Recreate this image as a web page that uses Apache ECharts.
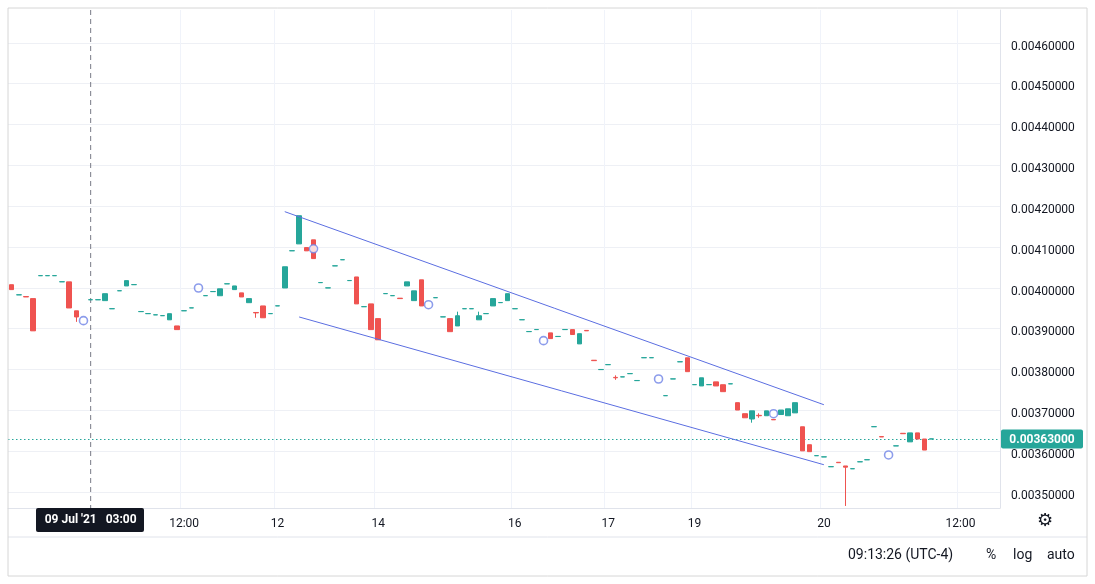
<!DOCTYPE html>
<html><head><meta charset="utf-8">
<script src="https://cdn.jsdelivr.net/npm/echarts@6/dist/echarts.min.js"></script>
<style>html,body{margin:0;padding:0;background:#fff}#c{width:1095px;height:584px}</style>
</head><body><div id="c"></div>
<script>
// prices in units of 1e-6
const opens = [4007,3982,3978,3973,4029,4029,4029,4014,4014,3943,null,3970,3970,3968,3948,3992,4004,4007,3941,3936,3933,3931,3921,3906,3943,3950,null,3980,3990,3980,4009,3995,3987,3963,3939,3955,3936,3955,3999,4090,4107,4098,4117,4012,3999,4053,4068,4017,4026,3953,3960,3924,3985,3980,3974,4004,3968,4019,null,3975,3928,3924,3906,3948,3948,3921,3936,3955,3963,3968,3948,3921,3892,3897,null,3889,3880,3897,3897,3862,3895,3822,3799,3811,3780,3781,3789,3772,3828,3828,null,3735,3776,3818,3828,3762,3759,3762,3769,3762,3764,3718,3691,3678,3687,3686,3677,3689,3686,3693,3659,3615,3588,3585,3561,3572,3563,3556,3573,3578,3659,3635,null,3612,3643,3622,3644,3629,3629];
const closes = [3995,3982.4,3977,3894,4029.4,4029.4,4029.4,4014.4,3950,3928,null,3970.4,3970.4,3985,3948.4,3992.4,4017,4007.4,3941.4,3936.4,3933.4,3931.4,3936,3897,3943.4,3950.4,null,3980.4,3990.4,3997,4009.4,4004,3977,3973,3938,3926,3936.4,3955.4,4051,4090.4,4176,4090,4071,4012.4,3999.4,4053.4,4068.4,4017.4,3960,3953.4,3897,3872,3985.4,3980.4,3973,4014,3992,3955,null,3975.4,3928.4,3892,3931,3948.4,3948.4,3931,3936.4,3973,3963.4,3985,3948.4,3921.4,3892.4,3897.4,null,3875,3880.4,3897.4,3885,3887,3894,3821,3799.4,3811.4,3779,3781.4,3789.4,3772.4,3828.4,3828.4,null,3735.4,3776.4,3818.4,3794,3762.4,3779,3762.4,3759,3745,3764.4,3700,3681,3698,3686,3698,3676,3700,3703,3718,3600,3598,3588.4,3585.4,3561.4,3571,3560,3556.4,3573.4,3578.4,3659.4,3634,null,3612.4,3642,3644,3629,3602,3629.4];
const extraLows = [[9,3916],[34,3926],[40,4107],[84,3774],[103,3669],[104,3681],[116,3465]];
const extraHighs = [[62,3941],[65,3941],[84,3785],[104,3692]];
const markers = [[10,3919],[26,3999],[42,4095],[58,3958],[74,3870],[90,3776],[106,3691],[122,3590]];
const upperTrend = [[38,4186],[113,3713]];
const lowerTrend = [[40,3928],[113,3566]];
const tickLabels = [[24,'12:00'],[37,'12'],[51,'14'],[70,'16'],[83,'17'],[95,'19'],[113,'20'],[132,'12:00']];
const priceTicks = [3500,3600,3700,3800,3900,4000,4100,4200,4300,4400,4500,4600];
const lastPrice = 3630;
const slotCount = 138;

const U = 1e-6;
const cats = Array.from({length: slotCount}, (_, i) => String(i));
const labelMap = {}; tickLabels.forEach(([i, t]) => labelMap[i] = t);
const lowMap = {}; extraLows.forEach(([i, v]) => lowMap[i] = v);
const highMap = {}; extraHighs.forEach(([i, v]) => highMap[i] = v);
const candles = cats.map((_, i) => {
  if (i >= opens.length || opens[i] == null) return '-';
  const o = opens[i], c = closes[i];
  const l = lowMap[i] != null ? lowMap[i] : Math.min(o, c);
  const h = highMap[i] != null ? highMap[i] : Math.max(o, c);
  return [o * U, c * U, l * U, h * U];
});
const GREEN = '#26a69a', RED = '#ef5350', BLUE = '#5b6ee1';
const chart = echarts.init(document.getElementById('c'));
chart.setOption({
  animation: false,
  grid: {left: 8, right: 95, top: 10, bottom: 76},
  xAxis: {
    type: 'category', data: cats, boundaryGap: true,
    axisLine: {show: true, lineStyle: {color: '#e0e3eb'}},
    axisTick: {show: false},
    axisLabel: {interval: 0, formatter: (v, i) => labelMap[i] || '', color: '#131722', fontSize: 12, fontFamily: 'Roboto', margin: 10},
    splitLine: {show: true, interval: (i) => labelMap[i] != null, lineStyle: {color: '#f0f3fa'}}
  },
  yAxis: {
    type: 'value', position: 'right', min: 3460 * U, max: 4680 * U,
    axisLine: {show: true, lineStyle: {color: '#e0e3eb'}},
    axisTick: {show: false}, splitLine: {show: false}, axisLabel: {show: false}
  },
  series: [
    {type: 'candlestick', data: candles, barWidth: 5, z: 3,
     itemStyle: {color: GREEN, color0: RED, borderColor: GREEN, borderColor0: RED, borderColorDoji: RED, borderWidth: 1}},
    {type: 'line', data: upperTrend.map(([i, v]) => [String(i), v * U]), symbol: 'none', lineStyle: {color: BLUE, width: 1}, z: 4},
    {type: 'line', data: lowerTrend.map(([i, v]) => [String(i), v * U]), symbol: 'none', lineStyle: {color: BLUE, width: 1}, z: 4},
    {type: 'scatter', data: markers.map(([i, v]) => [String(i), v * U]), symbol: 'circle', symbolSize: 8,
     itemStyle: {color: '#fff', borderColor: '#6f83e6', borderWidth: 1.6}, z: 5}
  ]
});
const g = [];
priceTicks.forEach(v => {
  const y = Math.round(chart.convertToPixel({yAxisIndex: 0}, v * U)) + 0.5;
  g.push({type: 'line', shape: {x1: 8, y1: y, x2: 1000, y2: y}, style: {stroke: '#eef0f5', lineWidth: 1}, z: -1});
  g.push({type: 'text', x: 1011, y: y + 3, style: {text: (v * U).toFixed(8), fill: '#131722', font: '12px Roboto', verticalAlign: 'middle'}});
});
const xc = chart.convertToPixel({xAxisIndex: 0}, '11');
g.push({type: 'line', shape: {x1: xc, y1: 10, x2: xc, y2: 508}, style: {stroke: '#787b86', lineDash: [5, 4], lineWidth: 1}, z: 1});
const yl = Math.round(chart.convertToPixel({yAxisIndex: 0}, lastPrice * U)) + 0.5;
g.push({type: 'line', shape: {x1: 8, y1: yl, x2: 1000, y2: yl}, style: {stroke: GREEN, lineDash: [1.5, 2.5], lineWidth: 1}, z: 1});
g.push(
  {type: 'rect', shape: {x: 1001, y: yl - 10, width: 82, height: 19, r: 2}, style: {fill: GREEN}, z: 10},
  {type: 'text', x: 1042, y: yl, style: {text: (lastPrice * U).toFixed(8), fill: '#fff', font: 'bold 12px Roboto', align: 'center', verticalAlign: 'middle'}, z: 11},
  {type: 'rect', shape: {x: 36, y: 508, width: 108, height: 24, r: 2}, style: {fill: '#131722'}, z: 10},
  {type: 'text', x: xc, y: 520, style: {text: "09 Jul '21   03:00", fill: '#fff', font: 'bold 12px Roboto', align: 'center', verticalAlign: 'middle'}, z: 11},
  {type: 'line', shape: {x1: 8, y1: 537, x2: 1087, y2: 537}, style: {stroke: '#e0e3eb'}},
  {type: 'text', x: 848, y: 555, style: {text: '09:13:26 (UTC-4)', fill: '#131722', font: '14px Roboto', verticalAlign: 'middle'}},
  {type: 'text', x: 986, y: 555, style: {text: '%', fill: '#131722', font: '14px Roboto', verticalAlign: 'middle'}},
  {type: 'text', x: 1013, y: 555, style: {text: 'log', fill: '#131722', font: '14px Roboto', verticalAlign: 'middle'}},
  {type: 'text', x: 1047, y: 555, style: {text: 'auto', fill: '#131722', font: '14px Roboto', verticalAlign: 'middle'}},
  {type: 'text', x: 1045, y: 521, style: {text: '⚙', fill: '#131722', font: '18px DejaVu Sans', align: 'center', verticalAlign: 'middle'}},
  {type: 'rect', shape: {x: 8, y: 8, width: 1079, height: 568}, style: {fill: 'none', stroke: '#d6d6d6', lineWidth: 1}, z: 20}
);
chart.setOption({graphic: g});
</script></body></html>
